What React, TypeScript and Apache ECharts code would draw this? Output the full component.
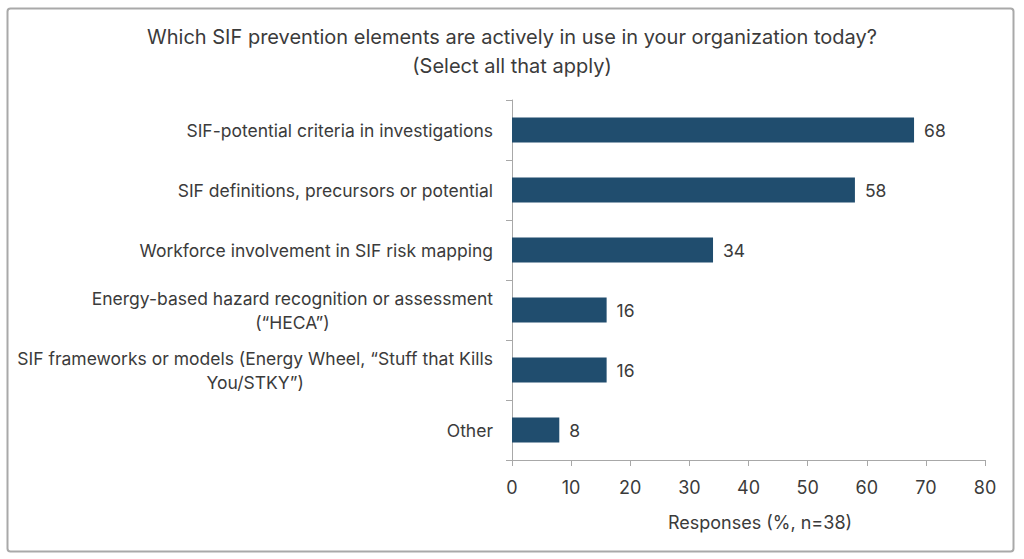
import React, { useEffect, useRef } from "react";
import * as echarts from "echarts";

const categories = [
  "SIF-potential criteria in investigations",
  "SIF definitions, precursors or potential",
  "Workforce involvement in SIF risk mapping",
  "Energy-based hazard recognition or assessment\n(\u201CHECA\u201D)",
  "SIF frameworks or models (Energy Wheel, \u201CStuff that Kills\nYou/STKY\u201D)",
  "Other",
];
const values = [68, 58, 34, 16, 16, 8];
const xTicks = [0, 10, 20, 30, 40, 50, 60, 70, 80];

const titleLines = [
  "Which SIF prevention elements are actively in use in your organization today?",
  "(Select all that apply)",
];
const xAxisName = "Responses (%, n=38)";

const FONT = "Inter, 'Noto Sans', sans-serif";
const TEXT = "#3b3b3b";
const BAR = "#204d6e";
const AXIS = "#a8a8a8";

export default function App() {
  const ref = useRef<HTMLDivElement>(null);

  useEffect(() => {
    if (!ref.current) return;
    const chart = echarts.init(ref.current, undefined, { renderer: "svg" });
    const cats = categories.slice().reverse();
    const vals = values.slice().reverse();

    chart.setOption({
      animation: false,
      backgroundColor: "#ffffff",
      textStyle: { fontFamily: FONT, color: TEXT },
      title: {
        text: titleLines.join("\n"),
        left: "center",
        top: 17,
        textStyle: {
          fontFamily: FONT,
          fontSize: 20,
          fontWeight: "normal",
          color: TEXT,
          lineHeight: 29,
        },
      },
      grid: { left: 512, right: 39, top: 100, height: 360, containLabel: false },
      xAxis: {
        type: "value",
        min: xTicks[0],
        max: xTicks[xTicks.length - 1],
        interval: 10,
        axisLine: { show: true, lineStyle: { color: AXIS, width: 1 } },
        axisTick: { show: true, length: 6, lineStyle: { color: AXIS } },
        splitLine: { show: false },
        axisLabel: {
          fontFamily: FONT,
          fontSize: 18,
          color: TEXT,
          margin: 18,
        },
      },
      yAxis: {
        type: "category",
        data: cats,
        axisLine: { show: true, lineStyle: { color: AXIS, width: 1 } },
        axisTick: { show: true, length: 6, lineStyle: { color: AXIS } },
        axisLabel: {
          margin: 19,
          fontFamily: FONT,
          fontSize: 17.5,
          color: TEXT,
          lineHeight: 24,
          formatter: (v: string) =>
            v
              .split("\n")
              .map((line) => `{c|${line}}`)
              .join("\n"),
          rich: {
            c: {
              align: "center",
              fontFamily: FONT,
              fontSize: 17.5,
              color: TEXT,
              lineHeight: 24,
            },
          },
        },
      },
      series: [
        {
          type: "bar",
          data: vals,
          barWidth: 25,
          itemStyle: { color: BAR },
          label: {
            show: true,
            position: "right",
            distance: 10,
            fontFamily: FONT,
            fontSize: 17.5,
            color: TEXT,
          },
        },
      ],
      graphic: [
        {
          type: "rect",
          shape: { x: 7.5, y: 8.5, width: 1006, height: 543, r: 3 },
          style: { fill: "none", stroke: "#a9a9a9", lineWidth: 2 },
          silent: true,
        },
        {
          type: "text",
          x: 760,
          y: 522,
          style: {
            text: xAxisName,
            font: `18px ${FONT}`,
            fill: TEXT,
            textAlign: "center",
            textVerticalAlign: "middle",
          },
        },
      ],
    });

    return () => chart.dispose();
  }, []);

  return (
    <div
      ref={ref}
      style={{ position: "fixed", left: 0, top: 0, width: 1024, height: 559 }}
    />
  );
}
